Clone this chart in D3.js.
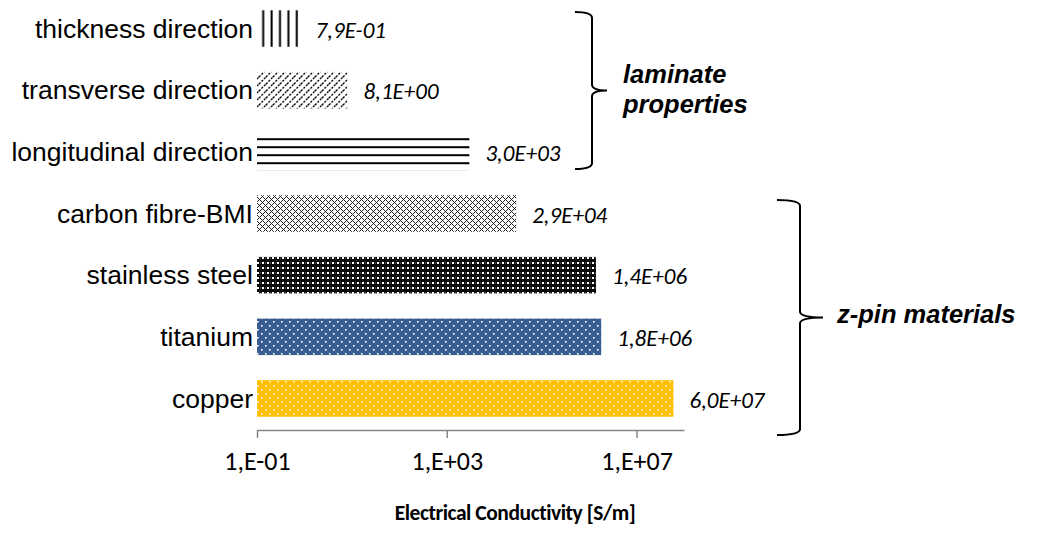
<!DOCTYPE html>
<html>
<head>
<meta charset="utf-8">
<script src="https://cdn.jsdelivr.net/npm/d3@7"></script>
<style>
  html, body { margin: 0; padding: 0; background: #fff; }
  svg { display: block; }
</style>
</head>
<body>
<svg id="chart" width="1045" height="545"></svg>
<script>
// Electrical conductivity of laminate directions and z-pin materials (log scale)
const categories = [
  "thickness direction",
  "transverse direction",
  "longitudinal direction",
  "carbon fibre-BMI",
  "stainless steel",
  "titanium",
  "copper"
];
const conductivity = [0.79, 8.1, 3.0e3, 2.9e4, 1.4e6, 1.8e6, 6.0e7];
const valueLabels = ["7,9E-01", "8,1E+00", "3,0E+03", "2,9E+04", "1,4E+06", "1,8E+06", "6,0E+07"];
const fills = ["vlines", "diag", "hlines", "checker", "steel", "ti", "cu"];
const tickValues = [1e-1, 1e3, 1e7];
const tickLabels = ["1,E-01", "1,E+03", "1,E+07"];
const groups = [
  { name: ["laminate", "properties"], from: 0, to: 2 },
  { name: ["z-pin materials"], from: 3, to: 6 }
];

const svg = d3.select("#chart");
const defs = svg.append("defs");

const x = d3.scaleLog().domain([1e-1, 1e8]).range([257, 684]);
const y = d3.scaleBand().domain(categories).range([-2.3, 429.3])
  .paddingInner(0.408).paddingOuter(0.204);

// ---- fill patterns ----
function pat(id, w, h, px, py) {
  return defs.append("pattern").attr("id", id)
    .attr("patternUnits", "userSpaceOnUse")
    .attr("x", px || 0).attr("y", py || 0)
    .attr("width", w).attr("height", h);
}
// vertical lines
let p = pat("vlines", 8.4, 8, 257);
p.append("rect").attr("width", 8.4).attr("height", 8).attr("fill", "#fff");
p.append("rect").attr("x", 5.2).attr("width", 2).attr("height", 8).attr("fill", "#000");
// dashed upward diagonals
p = pat("diag", 7, 7);
p.append("rect").attr("width", 7).attr("height", 7).attr("fill", "#fff");
p.append("path").attr("d", "M0,7 L7,0 M-3.5,3.5 L3.5,-3.5 M3.5,10.5 L10.5,3.5")
  .attr("stroke", "#111").attr("stroke-width", 1.4).attr("stroke-dasharray", "2.2,1.3");
// horizontal lines
p = pat("hlines", 8, 8, 0, 2.2);
p.append("rect").attr("width", 8).attr("height", 8).attr("fill", "#fff");
p.append("rect").attr("y", 0).attr("width", 8).attr("height", 2).attr("fill", "#000");
// checker / small crosses
p = pat("checker", 6, 6);
p.append("rect").attr("width", 6).attr("height", 6).attr("fill", "#fff");
[[0,0],[2,0],[1,1],[0,2],[2,2],[3,3],[5,3],[4,4],[3,5],[5,5]].forEach(([a, b]) =>
  p.append("rect").attr("x", a).attr("y", b).attr("width", 1).attr("height", 1).attr("fill", "#222"));
// dark with white dots
p = pat("steel", 5, 5);
p.append("rect").attr("width", 5).attr("height", 5).attr("fill", "#0a0a0a");
p.append("rect").attr("x", 2).attr("y", 2).attr("width", 2).attr("height", 2).attr("fill", "#fff");
p.append("rect").attr("x", 0).attr("y", 2.5).attr("width", 1).attr("height", 1).attr("fill", "#777");
// coloured with white dots
function dots(id, color) {
  const q = pat(id, 8, 8);
  q.append("rect").attr("width", 8).attr("height", 8).attr("fill", color);
  q.append("rect").attr("x", 1).attr("y", 1).attr("width", 1.6).attr("height", 1.6).attr("fill", "#fff");
  q.append("rect").attr("x", 5).attr("y", 5).attr("width", 1.6).attr("height", 1.6).attr("fill", "#fff");
}
dots("ti", "#3a5d91");
dots("cu", "#ffc000");

const rows = categories.map((c, i) => ({ c, v: conductivity[i], label: valueLabels[i], fill: fills[i] }));

// ---- bars ----
svg.append("g").selectAll("rect").data(rows).join("rect")
  .attr("x", x(1e-1))
  .attr("y", d => y(d.c))
  .attr("width", d => x(d.v) - x(1e-1))
  .attr("height", y.bandwidth())
  .attr("fill", d => `url(#${d.fill})`);

// ---- category labels ----
svg.append("g").selectAll("text").data(rows).join("text")
  .attr("x", 253)
  .attr("y", d => y(d.c) + y.bandwidth() / 2)
  .attr("dy", "0.35em")
  .attr("text-anchor", "end")
  .attr("font-family", "'Liberation Sans', Arial, sans-serif")
  .attr("font-size", 26.5)
  .attr("fill", "#000")
  .text(d => d.c);

// ---- value labels ----
svg.append("g").selectAll("text").data(rows).join("text")
  .attr("x", d => x(d.v) + 16)
  .attr("y", d => y(d.c) + y.bandwidth() / 2 + 1)
  .attr("dy", "0.35em")
  .attr("font-family", "Carlito, Calibri, Lato, sans-serif")
  .attr("font-style", "italic")
  .attr("font-size", 23)
  .attr("fill", "#000")
  .text(d => d.label);

// ---- x axis ----
const axis = svg.append("g").attr("transform", "translate(0,430)")
  .call(d3.axisBottom(x).tickValues(tickValues)
    .tickFormat((d, i) => tickLabels[i]).tickSizeInner(8).tickSizeOuter(0).tickPadding(14));
axis.select(".domain").attr("stroke", "#868686").attr("stroke-width", 1.5);
axis.selectAll(".tick line").attr("stroke", "#868686").attr("stroke-width", 1.5);
axis.selectAll(".tick text")
  .attr("font-family", "Carlito, Calibri, Lato, sans-serif")
  .attr("font-size", 26)
  .attr("fill", "#000");

svg.append("text")
  .attr("x", 515).attr("y", 520)
  .attr("text-anchor", "middle")
  .attr("font-family", "Carlito, Calibri, Lato, sans-serif")
  .attr("font-weight", "bold")
  .attr("font-size", 21.5)
  .attr("letter-spacing", -0.45)
  .attr("fill", "#000")
  .text("Electrical Conductivity [S/m]");

// ---- group braces ----
const braces = [
  { x0: 575, xv: 592, tip: 607, top: 12, bottom: 169, tx: 623, ty: 83 },
  { x0: 777, xv: 800, tip: 823, top: 200, bottom: 435, tx: 837, ty: 323 }
];
groups.forEach((g, i) => {
  const b = braces[i];
  const mid = (b.top + b.bottom) / 2;
  const r = 6;
  const path = `M${b.x0},${b.top} Q${b.xv},${b.top} ${b.xv},${b.top + r}` +
    ` L${b.xv},${mid - r} Q${b.xv},${mid} ${b.tip},${mid}` +
    ` Q${b.xv},${mid} ${b.xv},${mid + r}` +
    ` L${b.xv},${b.bottom - r} Q${b.xv},${b.bottom} ${b.x0},${b.bottom}`;
  svg.append("path").attr("d", path).attr("fill", "none")
    .attr("stroke", "#000").attr("stroke-width", 2);
  const t = svg.append("text")
    .attr("font-family", "'Liberation Sans', Arial, sans-serif")
    .attr("font-weight", "bold").attr("font-style", "italic")
    .attr("font-size", 25.5).attr("fill", "#000");
  g.name.forEach((line, k) => {
    t.append("tspan").attr("x", b.tx).attr("y", b.ty + k * 30).text(line);
  });
});
</script>
</body>
</html>
